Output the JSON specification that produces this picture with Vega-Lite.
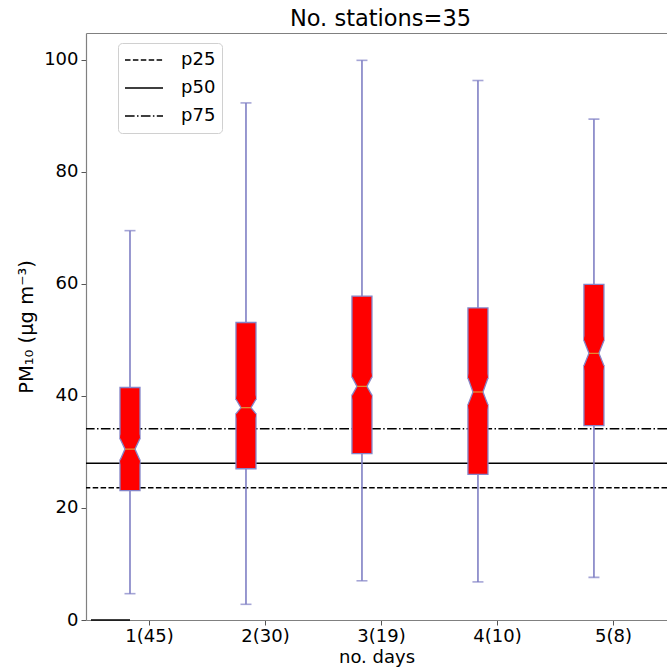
{
  "$schema": "https://vega.github.io/schema/vega-lite/v6.json",
  "autosize": {"type": "none"},
  "padding": {"left": 86, "top": 33, "right": 0, "bottom": 49},
  "width": 581,
  "height": 587,
  "background": "white",
  "title": {
    "text": "No. stations=35",
    "font": "DejaVu Sans",
    "fontSize": 22.5,
    "fontWeight": "normal",
    "color": "#000000",
    "anchor": "middle",
    "dx": 4,
    "dy": 21,
    "offset": 6,
    "baseline": "alphabetic"
  },
  "config": {
    "view": {"stroke": null},
    "font": "DejaVu Sans",
    "axis": {
      "grid": false,
      "domainColor": "#808080",
      "domainWidth": 1.2,
      "tickColor": "#555555",
      "tickSize": 5,
      "labelFont": "DejaVu Sans",
      "labelFontSize": 18,
      "labelColor": "#000000",
      "titleFont": "DejaVu Sans",
      "titleFontSize": 18,
      "titleFontWeight": "normal",
      "titleColor": "#000000"
    },
    "legend": {
      "labelFont": "DejaVu Sans",
      "labelFontSize": 18,
      "labelColor": "#000000"
    }
  },
  "datasets": {
    "boxes": [
      {"day": 1, "lo": 4.7, "q1": 23.1, "nlo": 28.5, "med": 30.5, "nhi": 32.4, "q3": 41.5, "hi": 69.5},
      {"day": 2, "lo": 2.8, "q1": 27.0, "nlo": 36.8, "med": 37.9, "nhi": 39.4, "q3": 53.1, "hi": 92.3},
      {"day": 3, "lo": 7.0, "q1": 29.7, "nlo": 40.1, "med": 41.7, "nhi": 43.4, "q3": 57.8, "hi": 99.9},
      {"day": 4, "lo": 6.8, "q1": 26.0, "nlo": 38.4, "med": 40.7, "nhi": 43.2, "q3": 55.7, "hi": 96.3},
      {"day": 5, "lo": 7.6, "q1": 34.7, "nlo": 45.4, "med": 47.6, "nhi": 49.9, "q3": 59.9, "hi": 89.4}
    ],
    "refs": [
      {"pct": "p25", "value": 23.6},
      {"pct": "p50", "value": 28.0},
      {"pct": "p75", "value": 34.15}
    ]
  },
  "resolve": {"axis": {"x": "independent", "y": "independent"}},
  "layer": [
    {
      "data": {"name": "refs"},
      "mark": {"type": "rule", "color": "#000000", "strokeWidth": 1.5},
      "encoding": {
        "y": {"field": "value", "type": "quantitative", "scale": {"domain": [0, 104.78], "nice": false, "zero": false}, "axis": null},
        "strokeDash": {
          "field": "pct",
          "type": "nominal",
          "scale": {"domain": ["p25", "p50", "p75"], "range": [[5.5, 2.4], [1, 0], [9.6, 2.4, 1.5, 2.4]]},
          "legend": {
            "title": null,
            "orient": "none",
            "legendX": 32,
            "legendY": 10,
            "symbolType": "stroke",
            "symbolSize": 1444,
            "symbolStrokeWidth": 1.5,
            "symbolStrokeColor": "#000000",
            "clipHeight": 22,
            "rowPadding": 6,
            "padding": 6,
            "labelOffset": 17,
            "strokeColor": "#d0d0d0",
            "fillColor": "#ffffff",
            "cornerRadius": 4
          }
        }
      }
    },
    {
      "data": {"values": [{"v": 0}]},
      "mark": {"type": "rule", "color": "#000000", "strokeWidth": 1.5, "x2Offset": -19},
      "encoding": {
        "x": {"datum": 0.5, "type": "quantitative", "axis": null},
        "x2": {"datum": 1},
        "y": {"datum": 0, "type": "quantitative", "axis": null}
      }
    },
    {
      "data": {"name": "boxes"},
      "mark": {"type": "rule", "color": "#7f7fc4", "strokeWidth": 1.6, "xOffset": -19},
      "encoding": {
        "x": {
          "field": "day",
          "type": "quantitative",
          "scale": {"domain": [0.5, 5.423], "nice": false, "zero": false},
          "axis": {
            "orient": "bottom",
            "values": [1, 2, 3, 4, 5],
            "labelExpr": "['1(45)','2(30)','3(19)','4(10)','5(8)'][datum.value - 1]",
            "title": "no. days",
            "titlePadding": 3,
            "labelPadding": 2,
            "tickSize": 5
          }
        },
        "y": {
          "field": "lo",
          "type": "quantitative",
          "axis": {
            "orient": "left",
            "values": [0, 20, 40, 60, 80, 100],
            "title": "PM₁₀ (μg m⁻³)",
            "titleFontSize": 19.5,
            "titlePadding": 7,
            "labelPadding": 3,
            "tickSize": 5
          }
        },
        "y2": {"field": "q1"}
      }
    },
    {
      "data": {"name": "boxes"},
      "mark": {"type": "rule", "color": "#7f7fc4", "strokeWidth": 1.6, "xOffset": -19},
      "encoding": {
        "x": {"field": "day", "type": "quantitative", "axis": {"orient": "top", "labels": false, "ticks": false, "title": null}},
        "y": {"field": "q3", "type": "quantitative", "axis": null},
        "y2": {"field": "hi"}
      }
    },
    {
      "data": {"name": "boxes"},
      "mark": {"type": "tick", "orient": "horizontal", "color": "#7f7fc4", "size": 11, "thickness": 1.6, "xOffset": -19},
      "encoding": {
        "x": {"field": "day", "type": "quantitative", "axis": null},
        "y": {"field": "lo", "type": "quantitative", "axis": null}
      }
    },
    {
      "data": {"name": "boxes"},
      "mark": {"type": "tick", "orient": "horizontal", "color": "#7f7fc4", "size": 11, "thickness": 1.6, "xOffset": -19},
      "encoding": {
        "x": {"field": "day", "type": "quantitative", "axis": null},
        "y": {"field": "hi", "type": "quantitative", "axis": null}
      }
    },
    {
      "data": {"name": "boxes"},
      "mark": {"type": "bar", "orient": "vertical", "width": 20, "fill": "#ff0000", "stroke": "#8585c8", "strokeWidth": 1.3, "xOffset": -19},
      "encoding": {
        "x": {"field": "day", "type": "quantitative", "axis": null},
        "y": {"field": "q1", "type": "quantitative", "axis": null},
        "y2": {"field": "nlo"}
      }
    },
    {
      "data": {"name": "boxes"},
      "mark": {"type": "bar", "orient": "vertical", "width": 20, "fill": "#ff0000", "stroke": "#8585c8", "strokeWidth": 1.3, "xOffset": -19},
      "encoding": {
        "x": {"field": "day", "type": "quantitative", "axis": null},
        "y": {"field": "nhi", "type": "quantitative", "axis": null},
        "y2": {"field": "q3"}
      }
    },
    {
      "data": {"name": "boxes"},
      "transform": [{"fold": ["nlo", "med", "nhi"], "as": ["key", "value"]}],
      "mark": {"type": "trail", "color": "#ff0000", "xOffset": -19},
      "encoding": {
        "x": {"field": "day", "type": "quantitative", "axis": null},
        "y": {"field": "value", "type": "quantitative", "axis": null},
        "detail": {"field": "day", "type": "nominal"},
        "order": {"field": "value", "type": "quantitative"},
        "size": {"condition": {"test": "datum.key === 'med'", "value": 10}, "value": 20}
      }
    },
    {
      "data": {"name": "boxes"},
      "mark": {"type": "rule", "color": "#8585c8", "strokeWidth": 1.3, "xOffset": -29, "x2Offset": -24},
      "encoding": {
        "x": {"field": "day", "type": "quantitative", "axis": null},
        "x2": {"field": "day"},
        "y": {"field": "nlo", "type": "quantitative", "axis": null},
        "y2": {"field": "med"}
      }
    },
    {
      "data": {"name": "boxes"},
      "mark": {"type": "rule", "color": "#8585c8", "strokeWidth": 1.3, "xOffset": -29, "x2Offset": -24},
      "encoding": {
        "x": {"field": "day", "type": "quantitative", "axis": null},
        "x2": {"field": "day"},
        "y": {"field": "nhi", "type": "quantitative", "axis": null},
        "y2": {"field": "med"}
      }
    },
    {
      "data": {"name": "boxes"},
      "mark": {"type": "rule", "color": "#8585c8", "strokeWidth": 1.3, "xOffset": -9, "x2Offset": -14},
      "encoding": {
        "x": {"field": "day", "type": "quantitative", "axis": null},
        "x2": {"field": "day"},
        "y": {"field": "nlo", "type": "quantitative", "axis": null},
        "y2": {"field": "med"}
      }
    },
    {
      "data": {"name": "boxes"},
      "mark": {"type": "rule", "color": "#8585c8", "strokeWidth": 1.3, "xOffset": -9, "x2Offset": -14},
      "encoding": {
        "x": {"field": "day", "type": "quantitative", "axis": null},
        "x2": {"field": "day"},
        "y": {"field": "nhi", "type": "quantitative", "axis": null},
        "y2": {"field": "med"}
      }
    },
    {
      "data": {"name": "boxes"},
      "mark": {"type": "tick", "orient": "horizontal", "color": "#d6c24a", "size": 10, "thickness": 1.3, "xOffset": -19},
      "encoding": {
        "x": {"field": "day", "type": "quantitative", "axis": null},
        "y": {"field": "med", "type": "quantitative", "axis": null}
      }
    }
  ]
}
